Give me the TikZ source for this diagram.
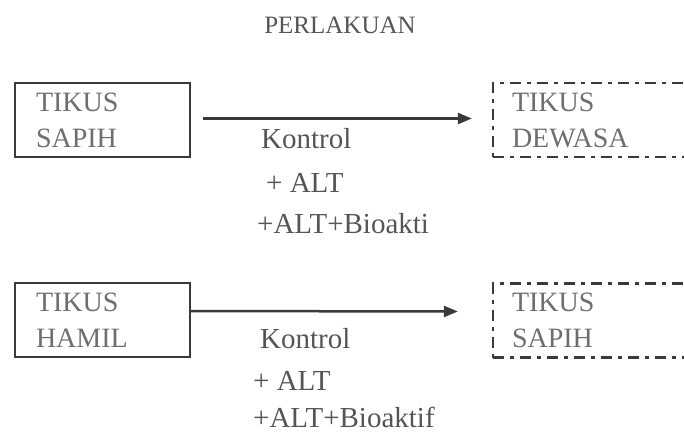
\documentclass[tikz,border=0pt]{standalone}
\usepackage{fontspec}
\setmainfont{Liberation Serif}
\usetikzlibrary{arrows.meta}
\definecolor{linegray}{HTML}{3A3A3A}
\definecolor{textgray}{HTML}{555555}
\definecolor{boxtext}{HTML}{6E6E6E}
\begin{document}
\begin{tikzpicture}[x=1pt,y=-1pt,
  solidbox/.style={draw=linegray, line width=2pt, minimum width=175pt, minimum height=74pt,
    inner xsep=21pt, inner ysep=0pt, text width=133pt, align=left, text=boxtext,
    font=\fontsize{28}{36}\selectfont},
  dashbox/.style={draw=linegray, line width=2.3pt, dash pattern=on 11pt off 6pt on 4pt off 6pt,
    minimum width=220pt, minimum height=74pt, inner xsep=19pt, inner ysep=0pt,
    text width=182pt, align=left, text=boxtext, font=\fontsize{28}{36}\selectfont},
  flow/.style={draw=linegray, line width=2.5pt, -{Triangle[length=14pt,width=11pt]}},
  lbl/.style={anchor=base west, inner sep=0pt, text=textgray, font=\fontsize{29}{34}\selectfont},
  titletext/.style={inner sep=0pt, text=textgray, font=\fontsize{25}{30}\selectfont}]
\useasboundingbox (0,0) rectangle (684,432);

\node[titletext] (title) at (340,25) {PERLAKUAN};

% top row
\node[solidbox] (ts) at (102.5,120) {TIKUS\\SAPIH};
\node[dashbox] (dd) at (603,120) {TIKUS\\DEWASA};
\draw[flow] ([xshift=12pt,yshift=1.5pt]ts.east) -- ([xshift=-20pt,yshift=1.5pt]dd.west);
\node[lbl] (k1) at (261,148) {Kontrol};
\node[lbl] (a1) at (266,192) {+ ALT};
\node[lbl] (b1) at (257,233) {+ALT+Bioakti};

% bottom row
\node[solidbox] (th) at (102.5,320) {TIKUS\\HAMIL};
\node[dashbox] (ds) at (603,320.5) {TIKUS\\SAPIH};
\draw[flow] ([yshift=9pt]th.east) -- ([xshift=-34pt,yshift=9pt]ds.west);
\node[lbl] (k2) at (260,348) {Kontrol};
\node[lbl] (a2) at (253,390) {+ ALT};
\node[lbl] (b2) at (253,427) {+ALT+Bioaktif};
\end{tikzpicture}
\end{document}
